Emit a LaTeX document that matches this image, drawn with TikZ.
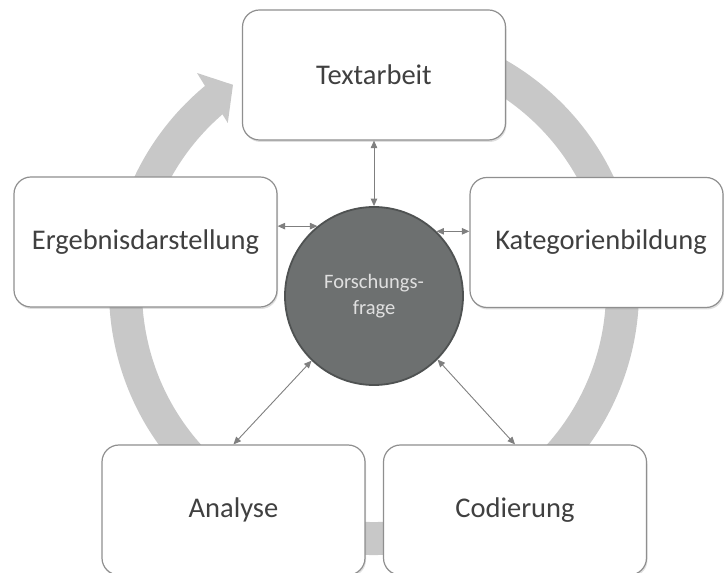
\documentclass[tikz,border=0pt]{standalone}
\usepackage{fontspec}
\setmainfont{Carlito}
\usetikzlibrary{arrows.meta,shadows}
\definecolor{ringgray}{HTML}{C8C8C8}
\definecolor{boxline}{HTML}{8F8F8F}
\definecolor{circfill}{HTML}{6D7070}
\definecolor{circline}{HTML}{4F5252}
\definecolor{txtgray}{HTML}{404040}
\definecolor{linkgray}{HTML}{7F7F7F}

\begin{document}
\begin{tikzpicture}[x=1pt, y=1pt,
  stage/.style={draw=boxline, line width=1.2pt, fill=white, rounded corners=17pt,
    minimum width=263pt, minimum height=130pt, inner sep=0pt, text=txtgray,
    font=\fontsize{28.5}{34}\selectfont,
    drop shadow={shadow xshift=1pt, shadow yshift=-2pt, opacity=0.25}},
  link/.style={draw=linkgray, line width=0.9pt,
    {Triangle[length=7.5pt,width=6.5pt]}-{Triangle[length=7.5pt,width=6.5pt]}}]
\useasboundingbox (0,0) rectangle (724,573);
\clip (0,0) rectangle (724,573);
\begin{scope}[shift={(374,283)}]
\draw [ringgray, line width=33pt] (100:248.5) arc [start angle=100, end angle=-230.5, radius=248.5];
\fill [ringgray] (129.2:280) -- (124.5:249) -- (131.2:222) -- cycle;
\end{scope}
\node [stage] (textarbeit) at (374, 498) {Textarbeit};
\node [stage] (ergebnis) at (145.5, 331) {Ergebnisdarstellung};
\node [stage, minimum width=253pt] (kategorien) at (596.5, 330.5) {\hspace*{9pt}Kategorienbildung};
\node [stage] (analyse) at (233.5, 63) {Analyse};
\node [stage] (codierung) at (515, 63) {Codierung};
\node [circle, draw=circline, line width=1.8pt, fill=circfill, minimum size=178pt,
  text=white!88!black, font=\fontsize{20.5}{26}\selectfont, align=center] (frage) at (374, 277) {Forschungs-\\frage};
\draw [link] (textarbeit.south) -- (frage.north);
\draw [link] (frage.129) -- (frage.129 -| ergebnis.east);
\draw [link] (frage.46) -- (frage.46 -| kategorien.west);
\draw [link] (frage.226) -- (analyse.north);
\draw [link] (frage.315) -- (codierung.north);
\end{tikzpicture}
\end{document}
